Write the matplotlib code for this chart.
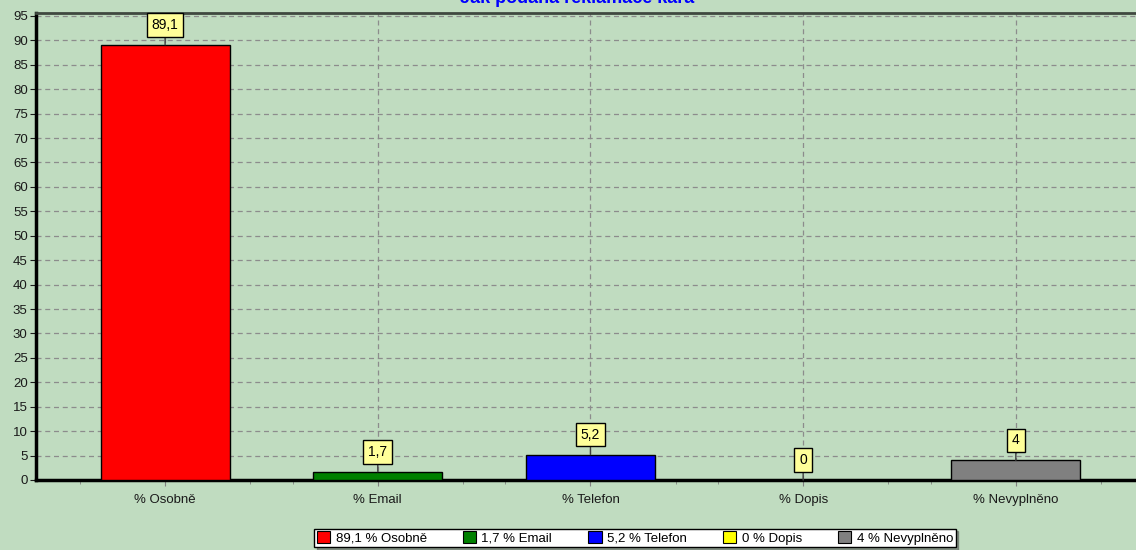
import matplotlib.pyplot as plt
from matplotlib.patches import Patch
from matplotlib.ticker import MultipleLocator

plt.rcParams['font.family'] = ['Liberation Sans', 'DejaVu Sans']

# data
categories = ['% Osobně', '% Email', '% Telefon', '% Dopis', '% Nevyplněno']
values = [89.1, 1.7, 5.2, 0, 4]
value_labels = ['89,1', '1,7', '5,2', '0', '4']
legend_labels = ['89,1 % Osobně', '1,7 % Email', '5,2 % Telefon', '0 % Dopis', '4 % Nevyplněno']
colors = ['#FF0000', '#008000', '#0000FF', '#FFFF00', '#808080']

BG = '#C0DCC0'

fig = plt.figure(figsize=(11.36, 5.5), dpi=100, facecolor=BG)
ax = fig.add_axes([36 / 1136, 1 - 480 / 550, 1 - 36 / 1136, 467 / 550])
ax.set_facecolor(BG)

x = list(range(len(categories)))
ax.bar(x, values, width=0.607, color=colors, edgecolor='black', linewidth=1, zorder=3)

ax.set_xlim(-0.607, 4.565)
ax.set_ylim(0, 95.6)
ax.yaxis.set_major_locator(MultipleLocator(5))
ax.set_xticks(x)
ax.set_xticklabels(categories, fontsize=9.5, color='#1a1a1a')
ax.tick_params(axis='y', labelsize=9.5, length=4, colors='#1a1a1a', width=0.8, pad=2)
ax.tick_params(axis='x', length=4, colors='#808080', labelcolor='#1a1a1a', pad=6)
ax.set_xticks([i + d for i in x for d in (-0.4, 0.4)], minor=True)
ax.tick_params(axis='x', which='minor', length=3, colors='#808080')

ax.grid(True, linestyle=(0, (4, 3)), color='#8C8C8C', linewidth=0.9, zorder=0)

ax.spines['right'].set_visible(False)
ax.spines['top'].set_color('#404840')
ax.spines['top'].set_linewidth(2)
ax.spines['left'].set_color('black')
ax.spines['left'].set_linewidth(2.5)
ax.spines['bottom'].set_color('black')
ax.spines['bottom'].set_linewidth(2.5)

# value labels with leader lines
for xi, v, lab in zip(x, values, value_labels):
    ax.annotate(lab, xy=(xi, v), xytext=(0, 20), textcoords='offset pixels',
                ha='center', va='center', fontsize=10, color='black', zorder=5,
                bbox=dict(boxstyle='square,pad=0.35', fc='#FFFF99', ec='black', lw=1),
                arrowprops=dict(arrowstyle='-', color='#404040', lw=1,
                                shrinkA=0, shrinkB=0))

# title (mostly cut off at top edge, as in the original)
fig.text(0.508, 0.994, 'Jak podána reklamace kára', ha='center', va='baseline',
         fontsize=13, fontweight='bold', color='#0000FF')

handles = [Patch(facecolor=c, edgecolor='black', linewidth=0.8) for c in colors]
leg = fig.legend(handles, legend_labels, loc='center', ncol=5,
                 bbox_to_anchor=(635 / 1136, 1 - 538 / 550), fontsize=9.5,
                 frameon=True, fancybox=False, shadow=True, handlelength=1.0,
                 handleheight=1.0, handletextpad=0.4, columnspacing=2.75,
                 borderpad=0.2, borderaxespad=0)
leg.get_frame().set_edgecolor('black')
leg.get_frame().set_facecolor('white')
leg.get_frame().set_linewidth(1)

plt.savefig('out.png', dpi=100, facecolor=BG)
